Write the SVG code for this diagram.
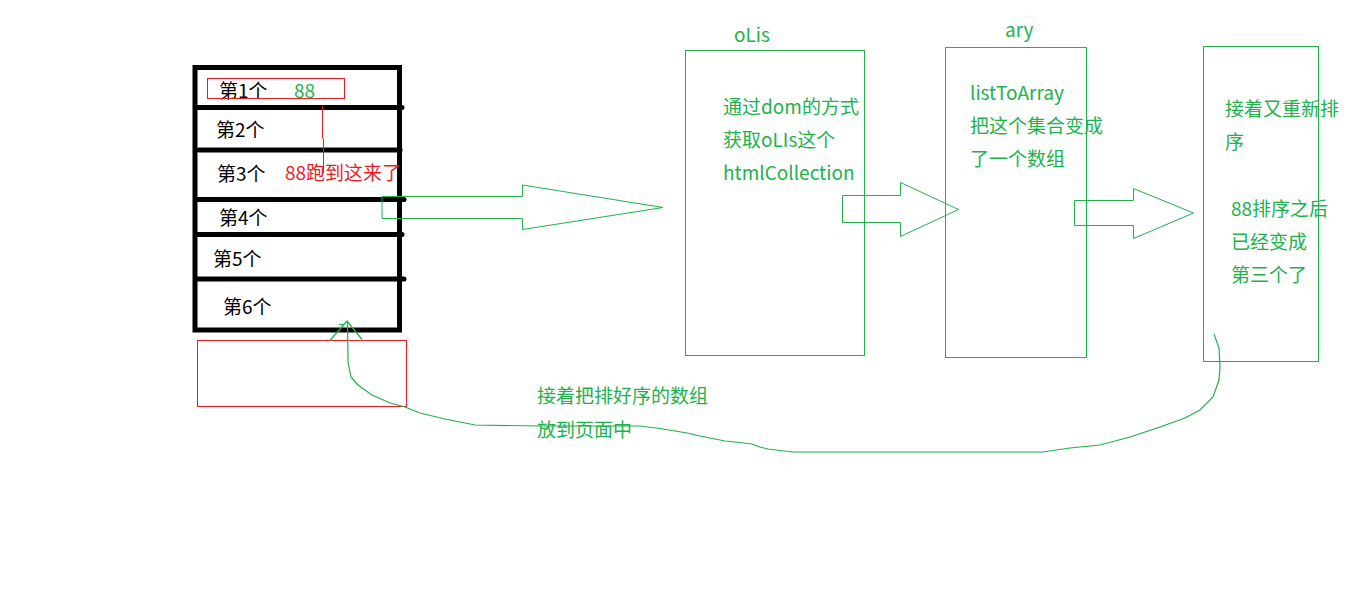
<svg xmlns="http://www.w3.org/2000/svg" width="1360" height="591" viewBox="0 0 1360 591">
<style>
.t{font-family:"Noto Sans CJK SC","Noto Sans",sans-serif;font-size:19px}
.g{fill:#22b14c}
.r{fill:#ed1c24}
.k{fill:#000}
.box{fill:none;stroke:#22b14c;stroke-width:1}
.blk{fill:none;stroke:#000;stroke-width:5;stroke-linecap:round}
.red{fill:none;stroke:#ed1c24;stroke-width:1}
.con{fill:none;stroke:#22b14c;stroke-width:1.2}
</style>
<rect width="1360" height="591" fill="#fff"/>
<g id="list">
<rect class="blk" x="195" y="67.5" width="204.5" height="262.5" stroke-linecap="butt"/>
<line class="blk" x1="197" y1="107.5" x2="402" y2="107.5"/>
<line class="blk" x1="199" y1="150" x2="400" y2="150"/>
<line class="blk" x1="197" y1="199.5" x2="404" y2="199.5"/>
<line class="blk" x1="197" y1="234.5" x2="402" y2="234.5"/>
<line class="blk" x1="197" y1="279" x2="404" y2="279"/>
<text class="t k" x="219" y="98">第1个</text>
<text class="t g" x="294" y="98">88</text>
<text class="t k" x="216" y="137">第2个</text>
<text class="t k" x="217" y="181">第3个</text>
<text class="t r" x="285" y="180">88跑到这来了</text>
<text class="t k" x="219" y="225">第4个</text>
<text class="t k" x="213" y="266">第5个</text>
<text class="t k" x="223" y="314">第6个</text>
</g>
<g id="highlight">
<rect class="red" x="207.5" y="78.5" width="137" height="20"/>
<polyline class="red" points="322.5,106 322.5,138 323.5,139 323.5,173"/>
<rect class="red" x="197.5" y="340.5" width="209" height="66"/>
</g>
<g id="oLis">
<text class="t g" x="734" y="42">oLis</text>
<rect class="box" x="685.5" y="50.5" width="179" height="305"/>
<text class="t g" x="723" y="114">通过dom的方式</text>
<text class="t g" x="723" y="147">获取oLIs这个</text>
<text class="t g" x="723" y="180">htmlCollection</text>
</g>
<g id="ary">
<text class="t g" x="1005" y="37">ary</text>
<rect class="box" x="945.5" y="47.5" width="141" height="310"/>
<text class="t g" x="970" y="100">listToArray</text>
<text class="t g" x="970" y="133">把这个集合变成</text>
<text class="t g" x="970" y="166">了一个数组</text>
</g>
<g id="sorted">
<rect class="box" x="1203.5" y="46.5" width="115" height="315"/>
<text class="t g" x="1225" y="116">接着又重新排</text>
<text class="t g" x="1225" y="149">序</text>
<text class="t g" x="1231" y="216">88排序之后</text>
<text class="t g" x="1231" y="249">已经变成</text>
<text class="t g" x="1231" y="282">第三个了</text>
</g>
<g id="note">
<text class="t g" x="537" y="403">接着把排好序的数组</text>
<text class="t g" x="537" y="437">放到页面中</text>
</g>
<g id="connectors">
<polygon class="box" points="382,196.5 522.5,196.5 522.5,185 663,207.5 522.5,229.5 522.5,218.5 382,218.5"/>
<polygon class="box" points="842.5,195.5 900.5,195.5 900.5,182.5 958.5,209.5 900.5,236.5 900.5,222.5 842.5,222.5"/>
<polygon class="box" points="1074.5,200.5 1133.5,200.5 1133.5,188.5 1193.5,213 1133.5,238.5 1133.5,225.5 1074.5,225.5"/>
<polyline class="con" points="1214,334 1219,348 1220,367 1219,380 1213,397 1200,410 1185,418 1160,427 1130,437 1100,445 1070,448 1043,452 793,452 780,450.5 768,449 760,447 752,444 740,442.5 725,441 700,436 687,433 660,428.5 640,426 540,426 475,425 445,419 420,413 405,407 390,403 372,395 362,388 357,384 351,377 348,362 347.5,321"/>
<polyline class="con" points="329.5,341 347,321 362,339.5"/>
<line class="con" x1="339" y1="324.5" x2="344" y2="324.5"/>
</g>
</svg>
